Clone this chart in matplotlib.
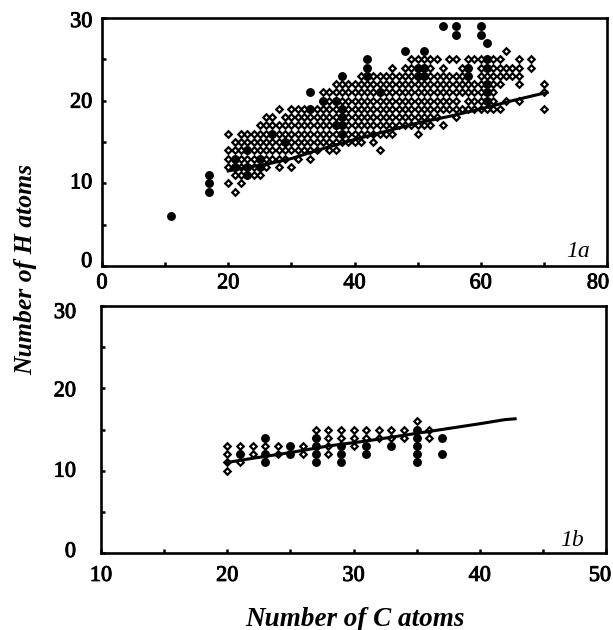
import matplotlib
matplotlib.use("Agg")
import matplotlib.pyplot as plt
import matplotlib.patheffects as pe
from matplotlib.transforms import ScaledTranslation

plt.rcParams['font.family'] = ['Liberation Serif', 'DejaVu Serif']

# Panel 1a: diamonds by carbon number, listing the H counts seen in each column
a_columns = {
    20: [16, 14, 13, 12, 10], 21: [15, 14, 13, 12, 11, 9], 22: [16, 15, 14, 13, 12, 11, 10],
    23: [16, 15, 14, 13, 12, 11], 24: [16, 15, 14, 13, 12, 11], 25: [17, 16, 15, 14, 13, 12, 11],
    26: [18, 17, 16, 15, 14, 13, 12], 27: [18, 17, 16, 15, 14, 13], 28: [19, 17, 16, 15, 14, 13, 12],
    29: [18, 17, 16, 15, 14, 13], 30: [19, 18, 17, 16, 15, 14, 12], 31: [19, 18, 17, 16, 15, 14, 13],
    32: [19, 18, 17, 16, 15, 14], 33: [19, 18, 17, 16, 15, 14, 13], 34: [19, 18, 17, 16, 15, 14],
    35: [21, 20, 19, 18, 17, 16, 15], 36: [21, 20, 19, 18, 17, 16, 15, 14],
    37: [22, 21, 20, 19, 18, 17, 16, 15, 14], 38: [22, 21, 20, 19, 18, 17, 16, 15],
    39: [22, 21, 20, 19, 18, 17, 16, 15], 40: [22, 21, 20, 19, 18, 17, 16, 15],
    41: [23, 22, 21, 20, 19, 18, 17, 16, 15], 42: [23, 22, 21, 20, 19, 18, 17, 16],
    43: [23, 22, 21, 20, 19, 18, 17, 16, 15], 44: [23, 22, 21, 20, 19, 18, 17, 16, 14],
    45: [23, 22, 21, 20, 19, 18, 17, 16], 46: [24, 23, 22, 21, 20, 19, 18, 17, 16],
    47: [23, 22, 21, 20, 19, 18, 17], 48: [24, 23, 22, 21, 20, 19, 18, 17],
    49: [25, 24, 23, 22, 21, 20, 19, 18, 17], 50: [25, 24, 23, 22, 21, 20, 19, 18, 17, 16],
    51: [25, 24, 23, 22, 21, 20, 19, 18, 17], 52: [25, 24, 23, 22, 21, 20, 19, 18, 17],
    53: [25, 23, 22, 21, 20, 19, 18], 54: [24, 23, 22, 21, 20, 19, 17],
    55: [25, 23, 22, 21, 20, 19], 56: [25, 23, 22, 21, 20, 19, 18], 57: [24, 23, 22, 21, 19],
    58: [25, 24, 23, 22, 21, 20, 19], 59: [25, 22, 21, 20, 19], 60: [25, 24, 23, 22, 21, 20, 19],
    61: [25, 24, 23, 22, 21, 20, 19], 62: [25, 24, 23, 22, 21, 20, 19], 63: [25, 24, 23, 22, 19],
    64: [26, 24, 23, 20], 65: [24, 23], 66: [25, 24, 23, 22, 20], 68: [25, 24], 70: [22, 21, 19],
}
a_circle_c = [11, 17, 17, 17, 21, 21, 23, 23, 23, 25, 25, 27, 29, 33, 33, 35, 37, 37, 38, 38, 38, 38, 38,
              42, 42, 42, 44, 48, 50, 50, 51, 51, 51, 54, 56, 56, 58, 58, 60, 60, 61, 61, 61, 61, 61, 61]
a_circle_h = [6, 9, 10, 11, 12, 13, 11, 12, 14, 12, 13, 16, 15, 19, 21, 20, 17, 20, 16, 17, 18, 19, 23,
              23, 24, 25, 21, 26, 23, 24, 23, 24, 26, 29, 28, 29, 23, 24, 28, 29, 20, 21, 22, 24, 25, 27]
a_line_c = [20, 22, 26, 30, 35, 40, 45, 50, 55, 60, 65, 70.5]
a_line_h = [11.5, 11.8, 12.3, 13.0, 14.2, 15.3, 16.3, 17.3, 18.1, 19.0, 20.0, 21.0]

# Panel 1b
b_columns = {
    20: [13, 12, 11, 10], 21: [13, 12, 11], 22: [13, 12], 23: [13], 24: [13, 12], 26: [13, 12],
    27: [15, 14], 28: [15, 14, 13, 12], 29: [15, 14], 30: [15, 14, 13], 31: [15, 14],
    32: [15, 14], 33: [15, 14], 34: [15, 14], 35: [16], 36: [15, 14],
}
b_circle_c = [21, 23, 23, 23, 25, 25, 27, 27, 27, 27, 29, 29, 29, 31, 31, 33, 35, 35, 35, 35, 35, 37, 37]
b_circle_h = [12, 11, 12, 14, 12, 13, 11, 12, 13, 14, 11, 12, 13, 12, 13, 13, 11, 12, 13, 14, 15, 12, 14]
b_line_c = [20, 22, 25, 28, 31, 34, 37, 40, 42, 42.8]
b_line_h = [11.0, 11.5, 12.2, 13.0, 13.6, 14.3, 15.0, 15.7, 16.2, 16.3]


def expand(columns):
    xs, ys = [], []
    for c, hs in columns.items():
        for h in hs:
            xs.append(c)
            ys.append(h)
    return xs, ys


W, H = 613, 630
fig = plt.figure(figsize=(W / 100, H / 100), dpi=100)
ax1 = fig.add_axes([102 / W, 1 - 266 / H, 505 / W, 248 / H])
ax2 = fig.add_axes([101 / W, 1 - 553 / H, 505 / W, 247 / H])


def draw(ax, columns, cc, ch, lc, lh):
    xs, ys = expand(columns)
    ax.plot(cc, ch, ls='none', marker='o', ms=6.4, mfc='black', mec='none', zorder=2)
    ax.plot(xs, ys, ls='none', marker='D', ms=3.3, mfc='none', mec='black', mew=1.6, zorder=3)
    ax.plot(lc, lh, color='black', lw=2.2, zorder=4)


draw(ax1, a_columns, a_circle_c, a_circle_h, a_line_c, a_line_h)
draw(ax2, b_columns, b_circle_c, b_circle_h, b_line_c, b_line_h)

ax1.set_xlim(0, 80)
ax1.set_xticks([0, 20, 40, 60, 80])
ax1.set_xticks([10, 30, 50, 70], minor=True)
ax2.set_xlim(10, 50)
ax2.set_xticks([10, 20, 30, 40, 50])
ax2.set_xticks([15, 25, 35, 45], minor=True)

x_pad = {ax1: 6, ax2: 10}
y_pad = {ax1: 7, ax2: 18}
for ax in (ax1, ax2):
    ax.set_ylim(0, 30)
    ax.set_yticks([0, 10, 20, 30])
    ax.set_yticks([5, 15, 25], minor=True)
    for s in ax.spines.values():
        s.set_linewidth(1.9)
    ax.tick_params(which='major', direction='in', length=3, width=1.8, labelsize=16)
    ax.tick_params(which='minor', direction='in', length=3, width=1.8)
    ax.tick_params(axis='x', which='major', pad=x_pad[ax])
    ax.tick_params(axis='y', which='major', pad=y_pad[ax])
    for lab in ax.get_xticklabels() + ax.get_yticklabels():
        lab.set_path_effects([pe.withStroke(linewidth=0.7, foreground='black')])


def nudge(lab, dx_px, dy_px):
    lab.set_transform(lab.get_transform() + ScaledTranslation(dx_px / 100, -dy_px / 100, fig.dpi_scale_trans))


# Tick labels sit slightly off their ticks in the reference
nudge(ax1.get_xticklabels()[-1], -9, 0)
nudge(ax2.get_xticklabels()[-1], -6, 0)
for lab, dy in zip(ax1.get_yticklabels(), [-6, -2, 0, 2]):
    nudge(lab, 0, dy)
for lab, dy in zip(ax2.get_yticklabels(), [-3, -1, 1, 5]):
    nudge(lab, 0, dy)

ax1.text(0.966, 0.036, '1a', transform=ax1.transAxes, ha='right', va='baseline',
         fontsize=17, style='italic')
ax2.text(0.956, 0.028, '1b', transform=ax2.transAxes, ha='right', va='baseline',
         fontsize=17, style='italic')

fig.text(26 / W, 1 - 269 / H, 'Number of H atoms', rotation=90, ha='center', va='center',
         fontsize=18.5, fontweight='bold', style='italic')
fig.text(355 / W, 1 - 619 / H, 'Number of C atoms', ha='center', va='center',
         fontsize=19.5, fontweight='bold', style='italic')

fig.savefig('out.png', dpi=100)
